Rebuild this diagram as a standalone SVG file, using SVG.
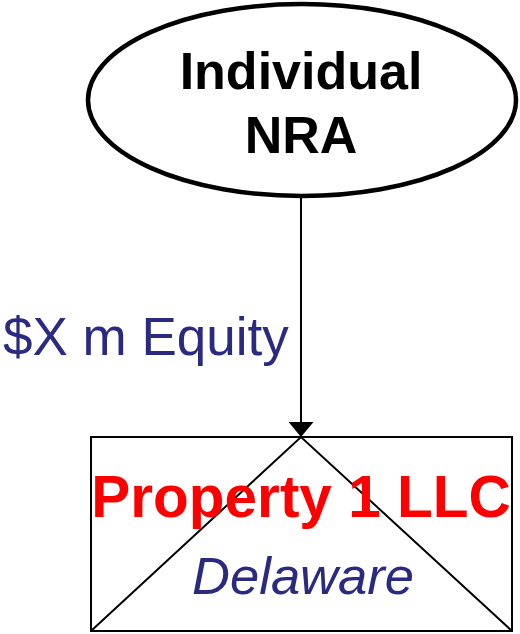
<svg xmlns="http://www.w3.org/2000/svg" width="520" height="634" viewBox="0 0 520 634">
  <style>
    .lbl { font-family: "Liberation Sans", Arial, sans-serif; }
    .owner { font-size: 52px; font-weight: bold; fill: #000; }
    .ent { font-size: 58.5px; font-weight: bold; fill: #ff0000; }
    .juris { font-size: 52.5px; font-style: italic; fill: #2a2a80; }
    .flow { font-size: 53px; fill: #2a2a80; }
  </style>
  <defs>
    <marker id="arrow" viewBox="0 0 15 25" refX="15" refY="12.5" markerWidth="15" markerHeight="25" markerUnits="userSpaceOnUse" orient="auto">
      <path d="M0,0 L15,12.5 L0,25 Z" fill="#000"/>
    </marker>
  </defs>

  <rect width="520" height="634" fill="#fff"/>

  <g id="connectors">
    <line x1="301" y1="198" x2="301" y2="437" stroke="#000" stroke-width="2" marker-end="url(#arrow)"/>
    <text class="lbl flow" x="3" y="355">$X m Equity</text>
  </g>

  <g id="individual-nra">
    <ellipse cx="302" cy="100" rx="214" ry="96" fill="#fff" stroke="#000" stroke-width="4.5"/>
    <text class="lbl owner" x="301" y="89" text-anchor="middle">Individual</text>
    <text class="lbl owner" x="301" y="153" text-anchor="middle">NRA</text>
  </g>

  <g id="property-1-llc">
    <rect x="91" y="437" width="421" height="194" fill="#fff" stroke="#000" stroke-width="2"/>
    <polyline points="91,631 301,437 512,631" fill="none" stroke="#000" stroke-width="2"/>
    <text class="lbl ent" x="301" y="517" text-anchor="middle">Property 1 LLC</text>
    <text class="lbl juris" x="303" y="594" text-anchor="middle">Delaware</text>
  </g>
</svg>
